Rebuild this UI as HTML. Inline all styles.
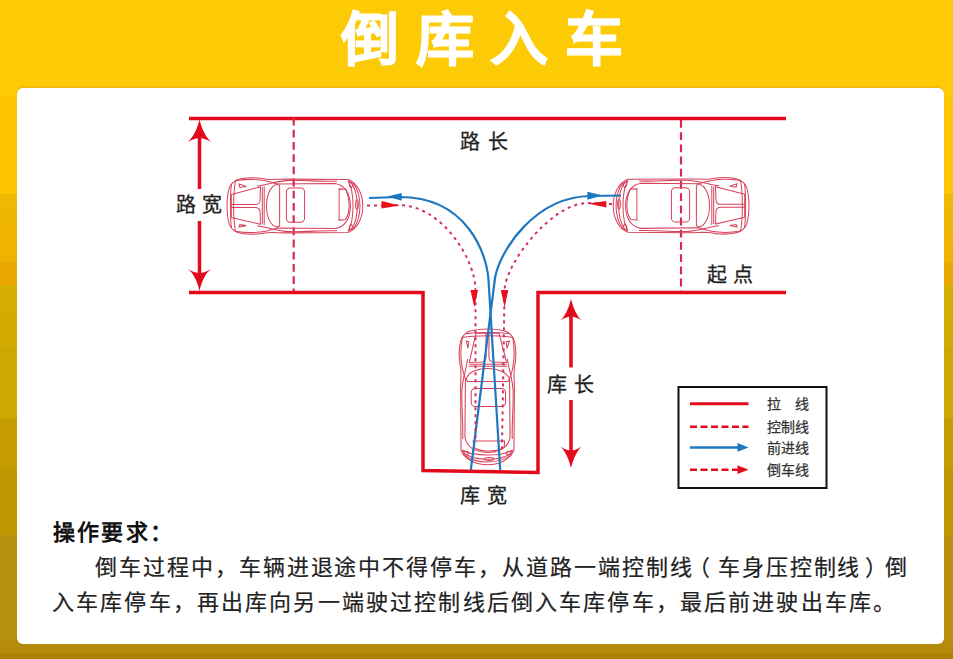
<!DOCTYPE html>
<html lang="zh-CN"><head><meta charset="utf-8">
<style>
html,body{margin:0;padding:0;}
body{width:953px;height:659px;overflow:hidden;position:relative;font-family:"Liberation Sans",sans-serif;
background:linear-gradient(to bottom,#FDCB06 0px,#FDCB06 97px,#FCC500 97px,#FCC500 194px,#F0B800 194px,#EEB300 262px,#E8A800 262px,#E8A800 285px,#D4AE00 285px,#D0AA00 348px,#CCA800 348px,#CCA800 419px,#C59C00 419px,#C59C00 469px,#BD9700 469px,#BD9700 535px,#B68F0C 535px,#B68F0C 639px,#B48B0A 639px,#B48B0A 653px,#AC8302 653px,#AC8302 659px);}
.title{position:absolute;left:0;top:0;width:953px;height:88px;background:#FDCB06;}
.title span{position:absolute;top:5px;left:341px;font-size:58px;font-weight:900;color:#fff;-webkit-text-stroke:1.1px #fff;letter-spacing:16.7px;line-height:70px;white-space:nowrap;}
.card{position:absolute;left:17px;top:88px;width:927px;height:556px;background:#fff;border-radius:6px;box-shadow:0 -1.5px 1px #F2BC14;}
svg{position:absolute;left:0;top:0;}
.lbl{position:absolute;font-size:20px;color:#222;white-space:nowrap;line-height:20px;letter-spacing:6.3px;-webkit-text-stroke:0.3px #222;}
.leg{position:absolute;font-size:14px;color:#333;white-space:nowrap;line-height:16px;-webkit-text-stroke:0.25px #333;}
.req{position:absolute;left:53px;top:518px;font-size:22px;font-weight:bold;color:#111;line-height:30px;letter-spacing:2.2px;}
.para{position:absolute;left:52px;top:549.5px;width:880px;font-size:22px;letter-spacing:2.15px;color:#222;line-height:35px;text-indent:43px;-webkit-text-stroke:0.2px #222;}
</style></head>
<body>
<div class="title"><span>倒库入车</span></div>
<div class="card"></div>
<svg width="953" height="659" viewBox="0 0 953 659">
<defs>
<g id="car" fill="none" stroke="#D8405A" stroke-width="1">
  <path d="M2.5,-18 C5,-23 9,-25 14,-26 C22,-27.5 32,-27 40,-25.5 C46,-25 52,-25.6 60,-25.6 L121,-25.2 C130,-22 135.8,-12 135.8,0 C135.8,12 130,22 121,25.2 L60,25.6 C52,25.6 46,25 40,25.5 C32,27 22,27.5 14,26 C9,25 5,23 2.5,18 C0.5,12 0,5 0,0 C0,-5 0.5,-12 2.5,-18 Z"/>
  <path d="M8,-24 C20,-26 36,-26 50,-21 L108,-21.5 C118,-20 123,-12 123.5,0 C123,12 118,20 108,21.5 L50,21 C36,26 20,26 8,24"/>
  <path d="M30,-19 C40,-20 50,-24 62,-24.4 C80,-24.8 95,-23 110,-23.6 M30,19 C40,20 50,24 62,24.4 C80,24.8 95,23 110,23.6"/>
  <path d="M4.5,-21 C3,-10 3,10 4.5,21"/>
  <path d="M8.5,-24 C6,-12 6,12 8.5,24"/>
  <path d="M4.3,-11 L33.5,-18.2 L33,-5 C32.5,-2.5 31,-1.4 28,-1.4 L4.3,-1.4 M4.3,11 L33.5,17.4 L33,5 C32.5,2.5 31,1.4 28,1.4 L4.3,1.4 M4.3,-11 L4.3,11"/>
  <path d="M35.3,-18.2 L35.3,17.4 M37.2,-18.8 L37.2,18"/>
  <path d="M49.9,-20.9 C42,-18 39.4,-8 39.4,0 C39.4,8 42,18 49.9,20.1 L52.6,19 L52.6,-19.5 Z"/>
  <rect x="59.4" y="-17.2" width="18.2" height="32.7" rx="4"/>
  <path d="M112.1,-16.3 L118.5,-15.9 C121.5,-10 122.1,-5 122.1,-0.9 C122.1,4 121.5,9 118.5,12.8 L112.1,13.7 Z"/>
  <path d="M121,-24 C125,-18 126,-8 126,0 C126,8 125,18 121,24"/>
  <path d="M124,-23 C129,-16 130.3,-8 130.3,0 C130.3,8 129,16 124,23"/>
  <path d="M126,-22.5 C131.5,-15 133,-8 133,0 C133,8 131.5,15 126,22.5"/>
  <path d="M122,-23.6 L126,-20.5 L124.5,-17.3 L122.5,-19 Z M122,23.6 L126,20.5 L124.5,17.3 L122.5,19 Z"/>
  <ellipse cx="130" cy="-1.5" rx="1.4" ry="4.5"/>
  <path d="M12,-20.9 L19.3,-18.6 L12.9,-17.7 Z M12,20.1 L19.3,18.7 L12.9,17.8 Z"/>
</g>
</defs>
<!-- road lines -->
<g stroke="#E30B1B" stroke-width="3.5" fill="none">
  <path d="M189,118.5 L786,118.5"/>
  <path d="M189,292.5 L423,292.5 L423,470.5 L538,472.5 L538,292.5 L786,292.5"/>
</g>
<g stroke="#D22C4E" stroke-width="2.2" stroke-dasharray="7.8 4.4" fill="none">
  <path d="M293.7,117.6 L293.7,291"/>
  <path d="M681,120 L681,291"/>
</g>
<!-- dimension arrows -->
<g stroke="#E30B1B" stroke-width="3.5" fill="none">
  <path d="M199.5,130 L199.5,189 M199.5,221 L199.5,282"/>
  <path d="M571,310 L571,367.5 M571,400 L571,458"/>
</g>
<g fill="#E30B1B">
  <path d="M199.5,119.5 C202,130 206,137 211,142 C206,139 202,138 199.5,138 C197,138 193,139 188,142 C193,137 197,130 199.5,119.5 Z"/>
  <path d="M199.5,291 C202,280 206,273 211,269 C206,272 202,273 199.5,273 C197,273 193,272 188,269 C193,273 197,280 199.5,291 Z"/>
  <path d="M571,299 C573.5,309 577,316 581.5,320.5 C577,317.5 573.5,316.5 571,316.5 C568.5,316.5 565,317.5 560.5,320.5 C565,316 568.5,309 571,299 Z"/>
  <path d="M571,468 C573.5,458 577,451 581.5,446.5 C577,449.5 573.5,450.5 571,450.5 C568.5,450.5 565,449.5 560.5,446.5 C565,451 568.5,458 571,468 Z"/>
</g>
<!-- cars -->
<use href="#car" transform="translate(227,206) scale(1,1.05)"/>
<use href="#car" transform="translate(749,205.8) scale(-1,1.05)"/>
<use href="#car" transform="translate(487.5,329) rotate(90) scale(1,1.05)"/>
<!-- paths -->
<g stroke="#1E78C0" stroke-width="2.2" fill="none">
  <path d="M369,198 L400,197 C467.5,197 487,254.7 488.5,280 L500.2,470"/>
  <path d="M621,195.5 L590,196 C535,197 500,250 495,278 L470.8,470"/>
</g>
<g stroke="#D03062" stroke-width="2" stroke-dasharray="3 4" fill="none">
  <path d="M367,205.5 L400,205.3 C441,205.3 475.5,259 475.5,290 L475.5,440"/>
  <path d="M612,204 L587,203 C550,204 505,265 504.6,290 L502,448"/>
</g>
<g fill="#1E78C0">
  <path d="M387.2,196.6 L401.7,192.9 L401.7,200.7 Z"/>
  <path d="M602.8,195.6 L587.4,191.8 L587.4,199.7 Z"/>
</g>
<g fill="#E8101A">
  <path d="M381.5,201 L399.8,205.5 L381.5,208.6 Z"/>
  <path d="M606.3,201 L587.7,203.5 L606.3,207.6 Z"/>
  <path d="M470.5,290 L478,290 L474.3,307.6 Z"/>
  <path d="M500.8,290 L508.3,290 L504.6,307.6 Z"/>
</g>
<!-- legend -->
<rect x="678.5" y="387" width="148" height="101" fill="none" stroke="#111" stroke-width="2"/>
<path d="M690,403.7 L748.5,403.7" stroke="#E30B1B" stroke-width="3"/>
<path d="M690,426.7 L748.5,426.7" stroke="#E30B1B" stroke-width="2.5" stroke-dasharray="7 3.5"/>
<path d="M690,447.4 L740,447.4" stroke="#1E78C0" stroke-width="2.5"/>
<path d="M748.5,447.4 L737.5,443 L737.5,451.8 Z" fill="#1E78C0"/>
<path d="M690,469.7 L740,469.7" stroke="#E30B1B" stroke-width="2.5" stroke-dasharray="7 3.5"/>
<path d="M748.5,469.7 L737.5,465.3 L737.5,474.1 Z" fill="#E30B1B"/>
</svg>
<div class="lbl" style="left:460px;top:132px;letter-spacing:8px;">路长</div>
<div class="lbl" style="left:176px;top:195px;letter-spacing:6px;">路宽</div>
<div class="lbl" style="left:707px;top:265px;letter-spacing:6.3px;">起点</div>
<div class="lbl" style="left:547px;top:375px;letter-spacing:7.3px;">库长</div>
<div class="lbl" style="left:460px;top:486px;letter-spacing:7.3px;">库宽</div>
<div class="leg" style="left:767px;top:396px;">拉&#12288;线</div>
<div class="leg" style="left:767px;top:419px;">控制线</div>
<div class="leg" style="left:767px;top:440px;">前进线</div>
<div class="leg" style="left:767px;top:462px;">倒车线</div>
<div class="req">操作要求：</div>
<div class="para"><span style="letter-spacing:1.95px">倒车过程中，车辆进退途中不得停车，从道路一端控制线<span style="position:relative;left:-6px">（</span>车身压控制线<span style="position:relative;left:4px">）</span>倒</span>入车库停车，再出库向另一端驶过控制线后倒入车库停车，最后前进驶出车库。</div>
</body></html>
